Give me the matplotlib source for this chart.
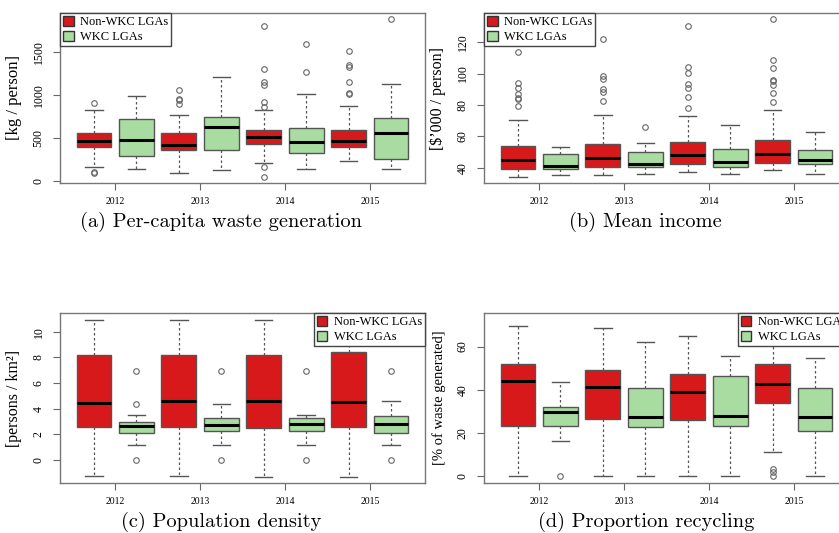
import matplotlib
matplotlib.use("Agg")
import matplotlib.pyplot as plt
from matplotlib.patches import Patch

years = ["2012", "2013", "2014", "2015"]
groups = ["Non-WKC LGAs", "WKC LGAs"]
red = "#D7191C"
green = "#A9DCA0"

# each box: (low whisker, Q1, median, Q3, high whisker), order: non-WKC 2012, WKC 2012, non-WKC 2013, ...
waste_boxes = [(160, 393, 471, 564, 828), (142, 297, 479, 719, 986),
               (91, 366, 424, 556, 762), (134, 366, 626, 742, 1207),
               (212, 432, 509, 599, 820), (142, 328, 451, 619, 1014),
               (230, 401, 471, 599, 870), (142, 258, 556, 738, 1122)]
waste_out = [[905, 112, 98], [], [1060, 956, 936, 897], [],
             [1797, 1297, 1149, 1110, 916, 858, 169, 52], [1595, 1262],
             [1509, 1343, 1323, 1149, 1025, 1006], [1878]]

income_boxes = [(34.2, 39.4, 44.9, 53.7, 70.3), (35.3, 39.0, 41.1, 48.5, 53.4),
                (35.3, 40.6, 46.4, 55.0, 73.5), (36.0, 40.4, 42.4, 50.2, 55.6),
                (37.0, 42.2, 47.9, 56.2, 73.1), (35.7, 40.6, 43.5, 52.0, 67.3),
                (38.3, 43.0, 49.0, 57.7, 76.9), (36.2, 42.4, 45.1, 51.5, 63.0)]
income_out = [[114, 94, 91, 87, 84.5, 83.5, 79.5], [],
              [122, 98.5, 96.3, 90, 88, 82.2], [65.6],
              [130, 104.4, 100.2, 93.4, 90.6, 84.8, 78], [],
              [134.5, 108.7, 103.4, 95.9, 95, 92.5, 87.4, 81.6], []]

density_boxes = [(-1.26, 2.54, 4.45, 8.17, 10.87), (1.18, 2.09, 2.62, 2.93, 3.53),
                 (-1.26, 2.54, 4.58, 8.17, 10.87), (1.18, 2.22, 2.72, 3.27, 4.35),
                 (-1.31, 2.49, 4.58, 8.17, 10.92), (1.18, 2.22, 2.80, 3.27, 3.53),
                 (-1.31, 2.54, 4.48, 8.38, 10.90), (1.15, 2.09, 2.77, 3.46, 4.61)]
density_out = [[], [6.94, 4.35, 0.03], [], [6.94, 0.03],
               [], [6.94, 0.03], [], [6.94, 0.03]]

recycle_boxes = [(0, 23.1, 44.0, 51.8, 69.6), (16.1, 23.3, 29.9, 32.1, 43.4),
                 (0, 26.4, 41.4, 49.3, 68.4), (0, 23.0, 27.3, 40.9, 62.0),
                 (0, 26.2, 38.9, 47.2, 64.8), (0, 23.3, 27.8, 46.5, 55.8),
                 (11.2, 33.8, 42.8, 52.0, 72.0), (0, 21.1, 27.3, 40.6, 54.6)]
recycle_out = [[], [0], [], [], [], [], [3.5, 2.0, 0], []]

panels = [
    (waste_boxes, waste_out, "[kg / person]", [0, 500, 1000, 1500], (-21, 1951),
     "upper left", "(a) Per-capita waste generation", 12),
    (income_boxes, income_out, "[\\$\u2019000 / person]", [40, 60, 80, 100, 120], (30.2, 138.6),
     "upper left", "(b) Mean income", 11.5),
    (density_boxes, density_out, "[persons / km\u00b2]", [0, 2, 4, 6, 8, 10], (-1.8, 11.45),
     "upper right", "(c) Population density", 11.5),
    (recycle_boxes, recycle_out, "[% of waste generated]", [0, 20, 40, 60], (-3.1, 75.5),
     "upper right", "(d) Proportion recycling", 10.5),
]

W, H = 839, 533
frames = [(60, 13), (484, 13), (60, 313), (484, 313)]
caption_pos = [(221, 222), (645, 222), (221, 522), (646, 522)]
fw, fh = 365, 170
serif = "Liberation Serif"
edge = "#555555"

fig = plt.figure(figsize=(W / 100, H / 100), dpi=100)

for (boxes, outs, ylab, yt, ylim, loc, cap, labsize), (fl, ft), (cx, cy) in zip(panels, frames, caption_pos):
    ax = fig.add_axes([fl / W, 1 - (ft + fh) / H, fw / W, fh / H])
    stats = []
    for b, o in zip(boxes, outs):
        stats.append(dict(whislo=b[0], q1=b[1], med=b[2], q3=b[3], whishi=b[4], fliers=o))
    positions = list(range(1, len(stats) + 1))
    art = ax.bxp(stats, positions=positions, widths=0.82, capwidths=0.41,
                 patch_artist=True, showfliers=True,
                 boxprops=dict(edgecolor=edge, linewidth=1.0),
                 medianprops=dict(color="black", linewidth=2.2),
                 whiskerprops=dict(color=edge, linewidth=0.9, linestyle=(0, (2, 2))),
                 capprops=dict(color=edge, linewidth=1.0),
                 flierprops=dict(marker="o", markersize=4, markerfacecolor="none",
                                 markeredgecolor="#666666", markeredgewidth=0.8))
    for i, patch in enumerate(art["boxes"]):
        patch.set_facecolor(red if i % 2 == 0 else green)

    ax.set_xlim(0.2, 8.8)
    ax.set_ylim(*ylim)
    ax.set_xticks([1.5, 3.5, 5.5, 7.5])
    ax.set_xticklabels(years, fontfamily=serif, fontsize=7)
    ax.set_yticks(yt)
    ax.set_yticklabels([str(v) for v in yt], fontfamily=serif, fontsize=8.5,
                       rotation=90, va="center")
    ax.tick_params(axis="x", length=5, pad=5, color="#666666")
    ax.tick_params(axis="y", length=5, pad=6, color="#666666")
    for s in ax.spines.values():
        s.set_color("#777777")
        s.set_linewidth(1.0)
    ax.set_ylabel(ylab, fontfamily=serif, fontsize=labsize)
    ax.yaxis.set_label_coords(-0.105, 0.5)

    handles = [Patch(facecolor=red, edgecolor="#333333"),
               Patch(facecolor=green, edgecolor="#333333")]
    leg = ax.legend(handles, groups, loc=loc, borderaxespad=0, fancybox=False,
                    framealpha=1, edgecolor="#444444", handlelength=0.85,
                    handleheight=0.85, handletextpad=0.5, labelspacing=0.2,
                    borderpad=0.25, prop=dict(family=serif, size=9))
    leg.get_frame().set_linewidth(1.0)

    fig.text(cx / W, 1 - cy / H, cap, fontfamily="cmr10", fontsize=14.7,
             ha="center", va="center")

fig.savefig("out.png", dpi=100)
